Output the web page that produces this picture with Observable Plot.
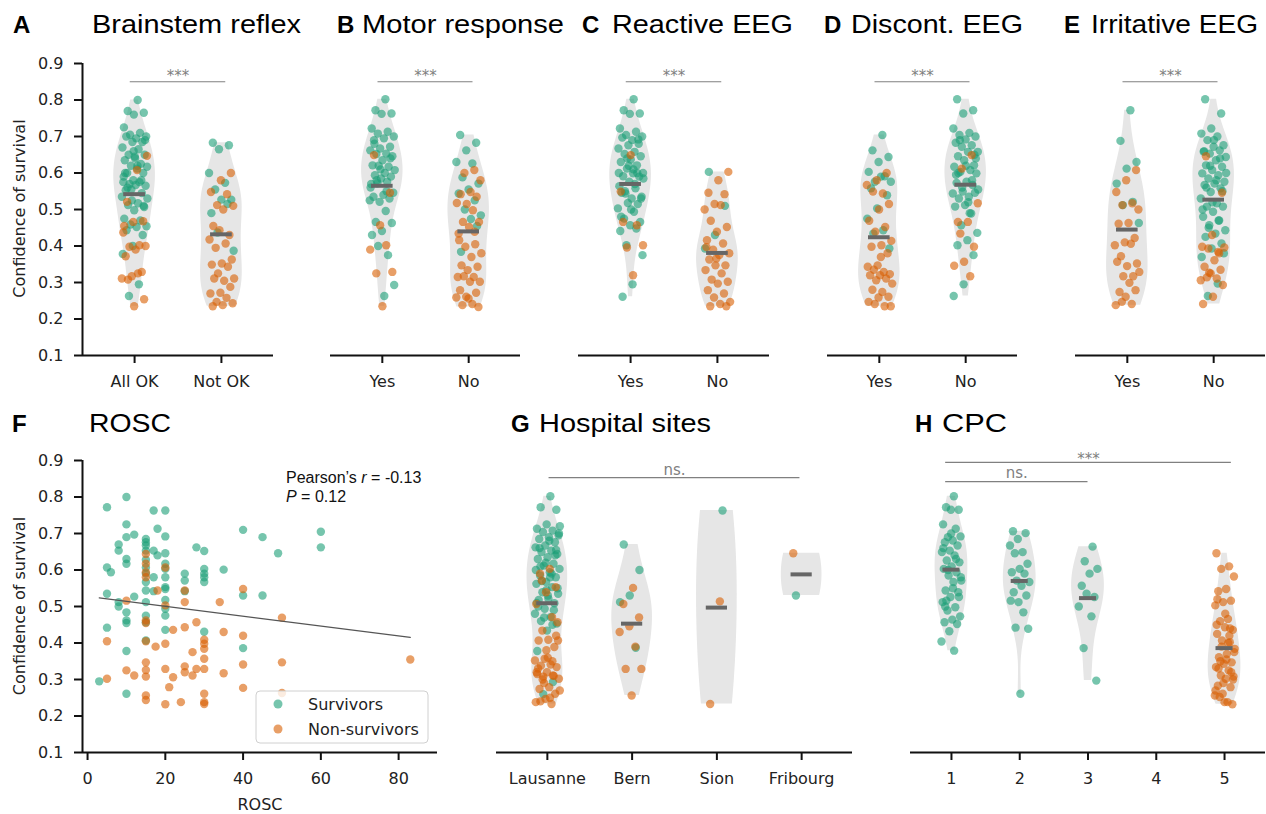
<!DOCTYPE html>
<html><head><meta charset="utf-8">
<script src="https://cdn.jsdelivr.net/npm/d3@7"></script>
<script src="https://cdn.jsdelivr.net/npm/@observablehq/plot@0.6"></script>
<style>
body{margin:0;background:#fff;}
#fig{position:relative;width:1266px;height:814px;overflow:hidden;background:#fff;}
</style></head><body><div id="fig"></div>
<script>
// ---------------- data (confidence of survival) ----------------
const yTicks = [0.1,0.2,0.3,0.4,0.5,0.6,0.7,0.8,0.9];

// A Brainstem reflex
const brainstemLabels = ["All OK","Not OK"];
const brainstemOkSurv = [0.80,0.77,0.765,0.76,0.725,0.71,0.705,0.70,0.695,0.70,0.685,0.685,0.67,0.665,0.65,0.65,0.645,0.635,0.625,0.62,0.617,0.612,0.60,0.60,0.58,0.575,0.575,0.57,0.565,0.567,0.553,0.545,0.525,0.535,0.517,0.512,0.507,0.498,0.475,0.47,0.459,0.454,0.452,0.443,0.43,0.40,0.378,0.295,0.263,0.69,0.64,0.60,0.58,0.555,0.53,0.62,0.56,0.51,0.66,0.59];
const brainstemOkNon = [0.647,0.608,0.521,0.468,0.466,0.437,0.402,0.398,0.40,0.39,0.372,0.329,0.317,0.311,0.325,0.308,0.254,0.235,0.455];
const brainstemNotSurv = [0.683,0.676,0.665,0.60,0.573,0.555,0.527,0.527,0.49,0.515,0.437,0.387];
const brainstemNotNon = [0.60,0.58,0.548,0.542,0.512,0.51,0.50,0.455,0.43,0.443,0.418,0.407,0.395,0.363,0.352,0.349,0.343,0.325,0.311,0.305,0.311,0.288,0.272,0.27,0.258,0.247,0.243,0.238,0.235];
const brainstemMedian = [0.542,0.432];

// B Motor response
const yesNoLabels = ["Yes","No"];
const motorYesSurv = [0.802,0.772,0.763,0.762,0.722,0.713,0.708,0.70,0.695,0.69,0.672,0.667,0.662,0.653,0.652,0.646,0.635,0.621,0.617,0.62,0.608,0.60,0.594,0.59,0.585,0.57,0.576,0.572,0.546,0.54,0.535,0.53,0.521,0.525,0.496,0.466,0.463,0.441,0.43,0.375,0.40,0.293,0.263,0.68,0.64,0.61,0.56,0.55,0.58];
const motorYesNon = [0.649,0.546,0.457,0.39,0.402,0.325,0.329,0.235];
const motorNoSurv = [0.704,0.683,0.662,0.63,0.626,0.588,0.571,0.555,0.544,0.525,0.50,0.484,0.474,0.384,0.455];
const motorNoNon = [0.608,0.60,0.58,0.548,0.542,0.535,0.515,0.518,0.498,0.466,0.466,0.452,0.416,0.405,0.398,0.38,0.37,0.347,0.343,0.334,0.315,0.315,0.317,0.302,0.302,0.279,0.272,0.261,0.259,0.241,0.238,0.233,0.256,0.434,0.439];
const motorMedian = [0.565,0.44];

// C Reactive EEG
const reactYesSurv = [0.802,0.772,0.763,0.762,0.722,0.713,0.704,0.70,0.69,0.697,0.692,0.676,0.667,0.658,0.652,0.646,0.637,0.63,0.621,0.612,0.60,0.599,0.591,0.59,0.576,0.564,0.558,0.544,0.535,0.53,0.546,0.515,0.518,0.503,0.494,0.475,0.466,0.457,0.441,0.448,0.402,0.375,0.295,0.261,0.68,0.62,0.60,0.57,0.55,0.53,0.50,0.48,0.60,0.64,0.585,0.61];
const reactYesNon = [0.649,0.549,0.457,0.396,0.402,0.32,0.466];
const reactNoSurv = [0.603,0.51,0.43,0.393];
const reactNoNon = [0.603,0.58,0.546,0.542,0.515,0.50,0.512,0.469,0.452,0.439,0.416,0.407,0.39,0.38,0.375,0.363,0.347,0.347,0.334,0.325,0.308,0.302,0.297,0.279,0.27,0.259,0.247,0.241,0.235,0.235,0.366,0.397];
const reactMedian = [0.57,0.381];

// D Discont. EEG
const discYesSurv = [0.704,0.662,0.644,0.63,0.603,0.591,0.576,0.576,0.59,0.558,0.539,0.503,0.475,0.443,0.434,0.393];
const discYesNon = [0.60,0.58,0.567,0.544,0.549,0.515,0.50,0.469,0.452,0.439,0.414,0.402,0.398,0.38,0.347,0.343,0.329,0.335,0.323,0.32,0.32,0.311,0.306,0.297,0.274,0.28,0.261,0.259,0.247,0.235,0.241,0.235,0.37];
const discNoSurv = [0.802,0.772,0.763,0.722,0.71,0.704,0.70,0.692,0.683,0.676,0.672,0.658,0.658,0.646,0.621,0.635,0.617,0.608,0.603,0.599,0.576,0.573,0.567,0.549,0.544,0.535,0.53,0.546,0.512,0.508,0.489,0.457,0.436,0.416,0.402,0.375,0.295,0.263,0.49,0.69,0.64,0.62,0.595,0.58,0.56,0.555,0.52,0.60,0.65];
const discNoNon = [0.649,0.612,0.517,0.466,0.466,0.398,0.357,0.346,0.317,0.434];
const discMedian = [0.424,0.568];

// E Irritative EEG
const irrYesSurv = [0.772,0.688,0.63,0.612,0.571,0.521,0.512,0.463];
const irrYesNon = [0.608,0.58,0.548,0.517,0.512,0.50,0.463,0.461,0.422,0.41,0.402,0.406,0.372,0.352,0.345,0.357,0.317,0.317,0.329,0.299,0.274,0.279,0.261,0.238,0.241,0.247];
const irrNoSurv = [0.802,0.763,0.722,0.708,0.70,0.69,0.676,0.672,0.658,0.662,0.653,0.644,0.635,0.621,0.617,0.608,0.599,0.594,0.585,0.576,0.571,0.567,0.558,0.548,0.53,0.517,0.508,0.508,0.494,0.48,0.47,0.457,0.443,0.434,0.425,0.407,0.393,0.37,0.297,0.263,0.38,0.69,0.66,0.64,0.62,0.60,0.58,0.56,0.55,0.52,0.50,0.47,0.45];
const irrNoNon = [0.646,0.546,0.43,0.398,0.384,0.393,0.396,0.361,0.343,0.335,0.325,0.306,0.311,0.314,0.293,0.261,0.241,0.38,0.327];
const irrMedian = [0.445,0.527];

// F ROSC  [ROSC minutes, confidence]
const roscTicks = [0,20,40,60,80];
const roscSurv = [[5,0.772],[10,0.80],[10,0.725],[10,0.69],[12,0.697],[8,0.67],[8,0.653],[10,0.63],[10,0.617],[5,0.607],[6,0.594],[5,0.535],[8,0.512],[8,0.50],[10,0.484],[10,0.462],[10,0.455],[12,0.527],[5,0.442],[10,0.378],[3,0.295],[10,0.261],[15,0.685],[15,0.676],[15,0.667],[15,0.653],[15,0.628],[15,0.607],[15,0.59],[15,0.567],[15,0.544],[15,0.512],[15,0.475],[15,0.457],[15,0.407],[17,0.763],[17,0.653],[17,0.58],[17,0.542],[18,0.713],[18,0.64],[20,0.763],[20,0.692],[20,0.646],[20,0.617],[20,0.603],[20,0.58],[20,0.553],[20,0.548],[20,0.518],[20,0.494],[20,0.475],[20,0.436],[25,0.59],[25,0.571],[25,0.542],[28,0.662],[30,0.652],[30,0.603],[30,0.59],[30,0.58],[30,0.567],[30,0.431],[35,0.601],[40,0.71],[40,0.53],[40,0.386],[45,0.69],[45,0.53],[49,0.646],[60,0.705],[60,0.662]];
const roscNon = [[5,0.405],[5,0.302],[10,0.516],[10,0.325],[12,0.311],[15,0.644],[15,0.617],[15,0.594],[15,0.58],[15,0.462],[15,0.455],[15,0.405],[15,0.347],[15,0.326],[15,0.308],[15,0.256],[15,0.244],[17.5,0.39],[18,0.544],[20,0.607],[20,0.503],[20,0.398],[20,0.329],[20,0.232],[21,0.279],[22,0.436],[22,0.306],[24,0.238],[25,0.544],[25,0.512],[25,0.443],[25,0.336],[25,0.32],[27,0.375],[27,0.311],[28,0.457],[28,0.329],[30,0.409],[30,0.398],[30,0.384],[30,0.357],[30,0.329],[30,0.261],[30,0.238],[30,0.233],[34,0.512],[35,0.43],[35,0.317],[40,0.548],[40,0.42],[40,0.341],[40,0.277],[50,0.469],[50,0.347],[50,0.263],[83,0.355]];
const pearsonR = "-0.13", pearsonP = "0.12";

// G Hospital sites
const siteLabels = ["Lausanne","Bern","Sion","Fribourg"];
const lausanneSurv = [0.802,0.772,0.765,0.725,0.713,0.708,0.704,0.695,0.69,0.685,0.676,0.667,0.662,0.653,0.649,0.644,0.635,0.63,0.617,0.612,0.603,0.594,0.585,0.58,0.567,0.562,0.553,0.539,0.535,0.521,0.518,0.509,0.494,0.48,0.471,0.46,0.453,0.434,0.378,0.293,0.26,0.70,0.68,0.66,0.64,0.62,0.60,0.59,0.57,0.55,0.53,0.50,0.49,0.47,0.72,0.58,0.61,0.655,0.545,0.51,0.45];
const lausanneNon = [0.603,0.59,0.553,0.539,0.507,0.471,0.434,0.407,0.409,0.407,0.389,0.357,0.352,0.341,0.338,0.334,0.32,0.315,0.311,0.308,0.302,0.279,0.274,0.261,0.247,0.238,0.233,0.571,0.457,0.36,0.33,0.31,0.29,0.27,0.25,0.24,0.42,0.38,0.32,0.35,0.30];
const bernSurv = [0.67,0.60,0.53,0.512,0.387];
const bernNon = [0.551,0.507,0.47,0.446,0.43,0.39,0.329,0.329,0.256];
const sionSurv = [0.763];
const sionNon = [0.514,0.233];
const fribourgSurv = [0.53];
const fribourgNon = [0.646];
const siteMedian = [0.509,0.453,0.497,0.588];

// H CPC
const cpcLabels = ["1","2","3","4","5"];
const cpc1 = [0.802,0.772,0.765,0.765,0.725,0.713,0.69,0.692,0.681,0.676,0.667,0.653,0.649,0.64,0.626,0.621,0.61,0.603,0.594,0.585,0.571,0.567,0.544,0.539,0.526,0.512,0.498,0.489,0.473,0.464,0.457,0.452,0.432,0.404,0.379,0.516,0.526,0.70,0.66,0.63,0.60,0.58,0.55,0.50];
const cpc2 = [0.706,0.701,0.685,0.667,0.649,0.646,0.617,0.603,0.594,0.59,0.571,0.567,0.557,0.539,0.53,0.512,0.516,0.484,0.442,0.439,0.261];
const cpc3 = [0.664,0.624,0.603,0.59,0.557,0.526,0.535,0.50,0.473,0.386,0.297];
const cpc4 = [];
const cpc5 = [0.646,0.61,0.603,0.582,0.548,0.542,0.516,0.512,0.503,0.466,0.46,0.436,0.443,0.425,0.402,0.407,0.384,0.37,0.361,0.347,0.343,0.334,0.325,0.311,0.308,0.302,0.283,0.279,0.261,0.256,0.238,0.252,0.232,0.238,0.45,0.42,0.39,0.375,0.355,0.33,0.32,0.29,0.27,0.40,0.35,0.30,0.48,0.52,0.44];
const cpcMedian = [0.601,0.570,0.523,null,0.386];

// ---------------- drawing ----------------
const GREEN = "#1b9e77", ORANGE = "#d95f02", VIOLIN = "#e6e6e6", MED = "#666666", SIG = "#808080";
const DOT_R = 4.2, DOT_OP = 0.6;
const fig = document.getElementById("fig");
const baseStyle = {fontFamily: "DejaVu Sans", fontSize: "16px", color: "#222", background: "transparent", overflow: "visible"};

function jit(i, salt) { const f = ((i + 1) * 0.6180339887 + salt * 0.2763) % 1; return (f - 0.5) * 0.30; }

function violin(vals, k, half) {
  const n = vals.length, sd = d3.deviation(vals), bw = sd * Math.pow(n, -0.2);
  const lo = d3.min(vals), hi = d3.max(vals), N = 80;
  const ys = d3.range(N + 1).map(j => lo + (hi - lo) * j / N);
  const dens = ys.map(y => d3.sum(vals, v => Math.exp(-0.5 * ((y - v) / bw) ** 2)));
  const m = d3.max(dens);
  return ys.map((y, j) => ({k, y, x1: k - half * dens[j] / m, x2: k + half * dens[j] / m}));
}

function place(svg, left, top) {
  svg.style.position = "absolute"; svg.style.left = left + "px"; svg.style.top = top + "px";
  fig.appendChild(svg);
}

function spineAxisY(xmin) {
  return [
    Plot.ruleX([xmin], {stroke: "#111", strokeWidth: 2}),
    Plot.axisY({ticks: yTicks, tickFormat: d3.format(".1f"), tickSize: 8, tickPadding: 11, strokeWidth: 2, stroke: "#111", fill: "#222", fontSize: 16, label: null})
  ];
}

function catPanel(cfg) {
  const n = cfg.labels.length;
  const surv = [], non = [], vio = [], meds = [];
  cfg.labels.forEach((lab, k) => {
    const s = cfg.surv[k] || [], o = cfg.non[k] || [];
    s.forEach((v, i) => surv.push({x: k + jit(i, k * 2), y: v}));
    o.forEach((v, i) => non.push({x: k + jit(i + s.length, k * 2 + 1), y: v}));
    const all = s.concat(o);
    if (all.length > 1) vio.push(...violin(all, k, 0.24));
    if (cfg.med[k] != null) meds.push({k, y: cfg.med[k]});
  });
  const marks = [
    Plot.areaX(vio, {y: "y", x1: "x1", x2: "x2", z: "k", fill: VIOLIN, curve: "linear"}),
    Plot.dot(surv, {x: "x", y: "y", r: DOT_R, fill: GREEN, fillOpacity: DOT_OP}),
    Plot.dot(non, {x: "x", y: "y", r: DOT_R, fill: ORANGE, fillOpacity: DOT_OP}),
    Plot.ruleY(meds, {y: "y", x1: d => d.k - 0.125, x2: d => d.k + 0.125, stroke: MED, strokeWidth: 4}),
    Plot.ruleY(cfg.sig, {y: "y", x1: "x1", x2: "x2", stroke: SIG, strokeWidth: 1.2}),
    ...cfg.sig.map(s => Plot.text([s], {x: d => (d.x1 + d.x2) / 2, y: "y", text: "label", dy: s.dy, fill: SIG, fontSize: 15})),
    Plot.ruleY([0.1], {stroke: "#111", strokeWidth: 2}),
    Plot.axisX({ticks: d3.range(n), tickFormat: k => cfg.labels[k], tickSize: 8, tickPadding: 12, strokeWidth: 2, stroke: "#111", fill: "#222", fontSize: 16, label: null})
  ];
  if (cfg.yAxis) marks.push(...spineAxisY(-0.6));
  const svg = Plot.plot({
    width: cfg.width, height: cfg.height,
    marginLeft: cfg.ml, marginRight: cfg.mr, marginTop: 23, marginBottom: cfg.height - 23 - 292,
    x: {domain: [-0.6, n - 0.4], label: null},
    y: cfg.yAxis ? {domain: [0.1, 0.9], label: null} : {domain: [0.1, 0.9], label: null, axis: null},
    style: baseStyle,
    marks
  });
  place(svg, cfg.left, cfg.top);
}

const topSig = [{x1: -0.05, x2: 1.05, y: 0.85, label: "***", dy: -5.5}];
const T = 40, H1 = 360;
catPanel({labels: brainstemLabels, surv: [brainstemOkSurv, brainstemNotSurv], non: [brainstemOkNon, brainstemNotNon], med: brainstemMedian, sig: topSig, yAxis: true, left: 0, top: T, width: 278, height: H1, ml: 82, mr: 5});
catPanel({labels: yesNoLabels, surv: [motorYesSurv, motorNoSurv], non: [motorYesNon, motorNoNon], med: motorMedian, sig: topSig, left: 325, top: T, width: 200, height: H1, ml: 5, mr: 5});
catPanel({labels: yesNoLabels, surv: [reactYesSurv, reactNoSurv], non: [reactYesNon, reactNoNon], med: reactMedian, sig: topSig, left: 573, top: T, width: 201, height: H1, ml: 5, mr: 5});
catPanel({labels: yesNoLabels, surv: [discYesSurv, discNoSurv], non: [discYesNon, discNoNon], med: discMedian, sig: topSig, left: 822, top: T, width: 200, height: H1, ml: 5, mr: 5});
catPanel({labels: yesNoLabels, surv: [irrYesSurv, irrNoSurv], non: [irrYesNon, irrNoNon], med: irrMedian, sig: topSig, left: 1070, top: T, width: 196, height: H1, ml: 5, mr: 1});

const B = 437, H2 = 377;
catPanel({labels: siteLabels, surv: [lausanneSurv, bernSurv, sionSurv, fribourgSurv], non: [lausanneNon, bernNon, sionNon, fribourgNon], med: siteMedian,
  sig: [{x1: 0.02, x2: 2.98, y: 0.853, label: "ns.", dy: -7}], left: 491, top: B, width: 366, height: H2, ml: 5, mr: 5});
catPanel({labels: cpcLabels, surv: [cpc1, cpc2, cpc3, cpc4, []], non: [[], [], [], [], cpc5], med: cpcMedian,
  sig: [{x1: -0.085, x2: 4.1, y: 0.895, label: "***", dy: -3.5}, {x1: -0.085, x2: 2.0, y: 0.842, label: "ns.", dy: -8}],
  left: 905, top: B, width: 361, height: H2, ml: 5, mr: 1});

// F scatter
{
  const all = roscSurv.concat(roscNon);
  const svg = Plot.plot({
    width: 442, height: H2, marginLeft: 82, marginRight: 5, marginTop: 23, marginBottom: H2 - 23 - 292,
    x: {domain: [-1.3, 90], label: null},
    y: {domain: [0.1, 0.9], label: null},
    style: baseStyle,
    marks: [
      Plot.dot(roscSurv, {x: d => d[0], y: d => d[1], r: DOT_R, fill: GREEN, fillOpacity: DOT_OP}),
      Plot.dot(roscNon, {x: d => d[0], y: d => d[1], r: DOT_R, fill: ORANGE, fillOpacity: DOT_OP}),
      Plot.linearRegressionY(all, {x: d => d[0], y: d => d[1], ci: 0, stroke: "#555", strokeWidth: 1.2}),
      Plot.ruleY([0.1], {stroke: "#111", strokeWidth: 2}),
      Plot.axisX({ticks: roscTicks, tickSize: 8, tickPadding: 12, strokeWidth: 2, stroke: "#111", fill: "#222", fontSize: 16, label: null}),
      ...spineAxisY(-1.3)
    ]
  });
  place(svg, 0, B);
}

// ---------------- titles, labels, legend ----------------
const ov = d3.select(fig).append("svg").attr("width", 1266).attr("height", 814)
  .style("position", "absolute").style("left", "0px").style("top", "0px").style("pointer-events", "none");
const titleLayout = [
  {letter: "A", lx: 13, text: "Brainstem reflex", tx: 92, tw: 209, base: 33},
  {letter: "B", lx: 337, text: "Motor response", tx: 362, tw: 202, base: 33},
  {letter: "C", lx: 582, text: "Reactive EEG", tx: 612, tw: 181, base: 33},
  {letter: "D", lx: 824, text: "Discont. EEG", tx: 851, tw: 172, base: 33},
  {letter: "E", lx: 1064, text: "Irritative EEG", tx: 1091, tw: 167, base: 33},
  {letter: "F", lx: 12, text: "ROSC", tx: 89, tw: 82, base: 432},
  {letter: "G", lx: 511, text: "Hospital sites", tx: 539, tw: 172, base: 432},
  {letter: "H", lx: 915, text: "CPC", tx: 942, tw: 65, base: 432}
];
titleLayout.forEach(t => {
  ov.append("text").attr("x", t.lx).attr("y", t.base).attr("font-family", "Liberation Sans, Arial, sans-serif")
    .attr("font-weight", "bold").attr("font-size", 24).attr("fill", "#000").text(t.letter);
  ov.append("text").attr("x", t.tx).attr("y", t.base).attr("font-family", "Liberation Sans, Arial, sans-serif")
    .attr("font-size", 26).attr("fill", "#000").attr("textLength", t.tw).attr("lengthAdjust", "spacingAndGlyphs").text(t.text);
});
[208.5, 606].forEach(cy => {
  ov.append("text").attr("transform", `translate(24.5,${cy}) rotate(-90)`).attr("text-anchor", "middle")
    .attr("font-family", "DejaVu Sans").attr("font-size", 16).attr("fill", "#222").text("Confidence of survival");
});
ov.append("text").attr("x", 260).attr("y", 810).attr("text-anchor", "middle")
  .attr("font-family", "DejaVu Sans").attr("font-size", 16).attr("fill", "#222").text("ROSC");

const p1 = ov.append("text").attr("x", 286).attr("y", 482.5).attr("font-family", "Liberation Sans, Arial, sans-serif").attr("font-size", 16).attr("fill", "#111");
p1.append("tspan").text("Pearson\u2019s ");
p1.append("tspan").attr("font-style", "italic").text("r");
p1.append("tspan").text(" = " + pearsonR);
const p2 = ov.append("text").attr("x", 286).attr("y", 501.5).attr("font-family", "Liberation Sans, Arial, sans-serif").attr("font-size", 16).attr("fill", "#111");
p2.append("tspan").attr("font-style", "italic").text("P");
p2.append("tspan").text(" = " + pearsonP);

const lg = ov.append("g");
lg.append("rect").attr("x", 256).attr("y", 691).attr("width", 172).attr("height", 52).attr("rx", 4)
  .attr("fill", "#fff").attr("fill-opacity", 0.8).attr("stroke", "#d0d0d0").attr("stroke-width", 1);
[["Survivors", GREEN, 704], ["Non-survivors", ORANGE, 729]].forEach(([lab, col, cy]) => {
  lg.append("circle").attr("cx", 278).attr("cy", cy).attr("r", 4.5).attr("fill", col).attr("fill-opacity", DOT_OP);
  lg.append("text").attr("x", 308).attr("y", cy + 5.8).attr("font-family", "DejaVu Sans").attr("font-size", 16).attr("fill", "#222").text(lab);
});
</script></body></html>
